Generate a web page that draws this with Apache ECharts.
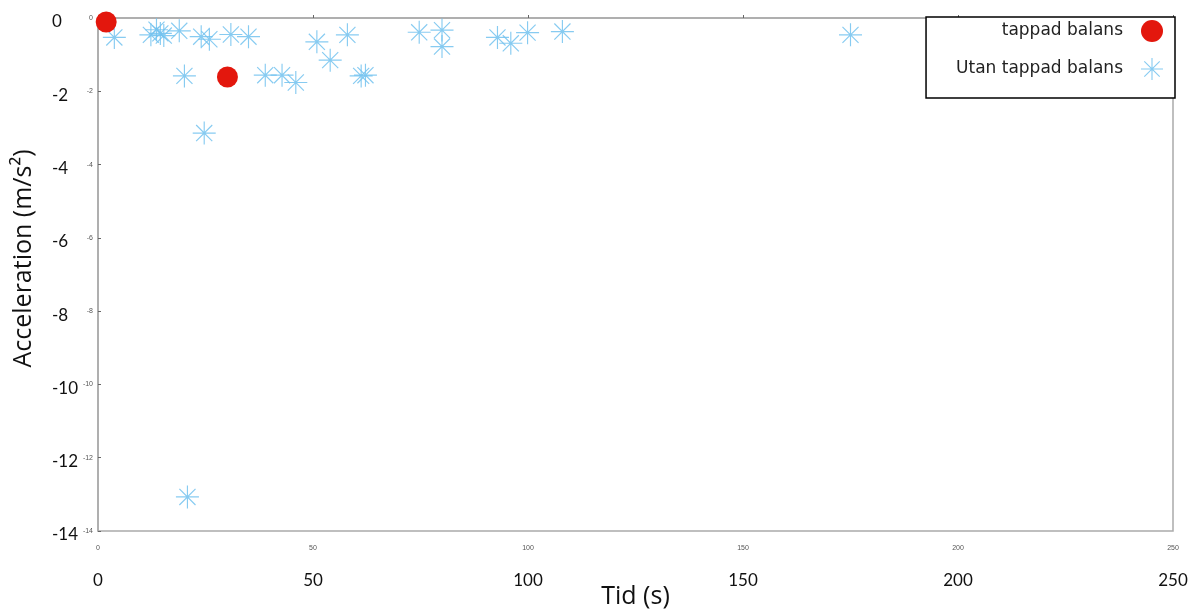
<!DOCTYPE html>
<html>
<head>
<meta charset="utf-8">
<script src="https://cdn.jsdelivr.net/npm/echarts@6/dist/echarts.min.js"></script>
<style>
html,body{margin:0;padding:0;background:#fff;}
#chart{width:1203px;height:612px;}
</style>
</head>
<body>
<div id="chart"></div>
<script>
// Data
const tappadX = [1.9, 30.1];
const tappadY = [-0.11, -1.61];
const utanX = [3.8, 12.3, 13.6, 14.5, 15.3, 18.9, 20.1, 20.8, 24.0, 24.7, 25.9, 30.9, 35.0, 38.9, 42.8, 46.0, 50.9, 54.0, 58.0, 61.2, 62.2, 74.7, 80.0, 80.0, 92.9, 96.0, 99.9, 108.0, 175.0, 235.0];
const utanY = [-0.53, -0.46, -0.32, -0.42, -0.48, -0.35, -1.58, -13.07, -0.51, -3.14, -0.58, -0.45, -0.51, -1.56, -1.56, -1.76, -0.65, -1.15, -0.46, -1.58, -1.56, -0.39, -0.33, -0.78, -0.53, -0.69, -0.40, -0.37, -0.46, -1.75];
const seriesNames = ['tappad balans', 'Utan tappad balans'];
const xTitle = 'Tid (s)';
const yTitle = 'Acceleration (m/s²)';

const star = 'path://M0 47.5L100 47.5L100 52.5L0 52.5Z' +
  'M47.5 0L52.5 0L52.5 100L47.5 100Z' +
  'M13.2 16.8L16.8 13.2L86.8 83.2L83.2 86.8Z' +
  'M83.2 13.2L86.8 16.8L16.8 86.8L13.2 83.2Z';

const chart = echarts.init(document.getElementById('chart'));
const bigFont = 'Lato, "Open Sans", sans-serif';
const titleFont = '"Open Sans", Lato, sans-serif';
chart.setOption({
  animation: false,
  backgroundColor: '#fff',
  grid: {left: 98, right: 30, top: 18, bottom: 81, show: true, borderColor: '#aaa', borderWidth: 1.5, outerBoundsMode: 'none'},
  xAxis: [{
    type: 'value', min: 0, max: 250, interval: 50, position: 'bottom',
    axisLine: {show: true, lineStyle: {color: '#aaa', width: 1.5}},
    axisTick: {show: true, inside: true, length: 3, lineStyle: {color: '#666'}},
    splitLine: {show: false},
    axisLabel: {fontSize: 7, color: '#555', margin: 14}
  }, {
    type: 'value', min: 0, max: 250, interval: 50, position: 'bottom', offset: 41,
    axisLine: {show: false}, axisTick: {show: false}, splitLine: {show: false},
    axisLabel: {fontSize: 17, color: '#111', margin: 0, fontFamily: bigFont},
    name: xTitle, nameLocation: 'middle', nameGap: 12, nameMoveOverlap: false,
    nameTextStyle: {fontSize: 25, color: '#111', fontFamily: titleFont}
  }],
  yAxis: [{
    type: 'value', min: -14, max: 0, interval: 2, position: 'left',
    axisLine: {show: true, lineStyle: {color: '#aaa', width: 1.5}},
    axisTick: {show: true, inside: true, length: 3, lineStyle: {color: '#666'}},
    splitLine: {show: false},
    axisLabel: {fontSize: 7, color: '#555', margin: 5}
  }, {
    type: 'value', min: -14, max: 0, interval: 2, position: 'left', offset: 46,
    axisLine: {show: false}, axisTick: {show: false}, splitLine: {show: false},
    axisLabel: {
      margin: 0, align: 'left',
      formatter: v => '{a|' + v + '}',
      rich: {a: {fontSize: 17, color: '#111', fontFamily: bigFont, padding: [8, 0, 0, 0]}}
    },
    name: yTitle, nameLocation: 'middle', nameGap: 16,
    nameTextStyle: {fontSize: 25, color: '#111', fontFamily: titleFont, padding: [0, 0, 0, 32]}
  }],
  legend: {
    orient: 'vertical', right: 28, top: 17, align: 'right',
    backgroundColor: '#fff', borderColor: '#000', borderWidth: 1.5,
    padding: [3, 12, 18, 30], itemGap: 16, itemWidth: 22, itemHeight: 22,
    textStyle: {fontSize: 17, color: '#222', fontFamily: '"DejaVu Sans", sans-serif', padding: [0, 13, 0, 0]},
    data: seriesNames
  },
  series: [{
    name: seriesNames[0], type: 'scatter', symbol: 'circle', symbolSize: 21,
    itemStyle: {color: '#e3170d', opacity: 1},
    data: tappadX.map((x, i) => [x, tappadY[i]]), z: 3
  }, {
    name: seriesNames[1], type: 'scatter', symbol: star, symbolSize: 23,
    itemStyle: {color: '#72c2ef', opacity: 0.85},
    data: utanX.map((x, i) => [x, utanY[i]]), z: 2
  }]
});
</script>
</body>
</html>
